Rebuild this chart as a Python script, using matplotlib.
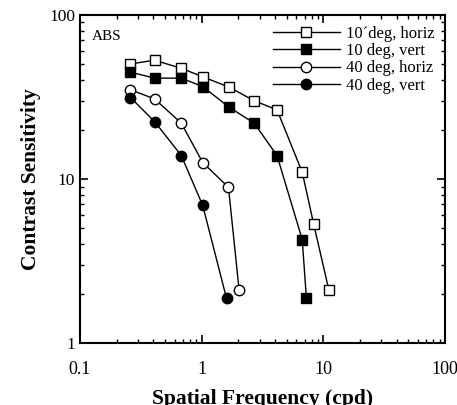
import matplotlib
matplotlib.use("Agg")
from matplotlib import pyplot as plt
from matplotlib.ticker import LogLocator, NullFormatter, FixedLocator, FixedFormatter

plt.rcParams['font.family'] = ['Liberation Serif', 'DejaVu Serif']

# --- data ---
x_10h = [0.26, 0.41, 0.68, 1.02, 1.68, 2.7, 4.16, 6.7, 8.3, 11.1]
y_10h = [50.3, 53.0, 47.3, 42.0, 36.3, 30.0, 26.4, 11.0, 5.35, 2.1]

x_10v = [0.26, 0.41, 0.68, 1.02, 1.68, 2.7, 4.16, 6.7, 7.25]
y_10v = [44.8, 41.2, 41.2, 36.6, 27.4, 21.9, 13.9, 4.27, 1.87]

x_40h = [0.26, 0.41, 0.68, 1.02, 1.66, 2.03]
y_40h = [35.0, 30.8, 21.9, 12.6, 8.9, 2.1]

x_40v = [0.26, 0.41, 0.68, 1.02, 1.6]
y_40v = [31.4, 22.4, 13.9, 6.9, 1.87]

labels = ["10\u00b4deg, horiz", "10 deg, vert", "40 deg, horiz", "40 deg, vert"]

fig = plt.figure(figsize=(4.57, 4.05), dpi=100)
ax = fig.add_axes([0.175, 0.153, 0.799, 0.81])

ms = 7.5
ax.plot(x_10h, y_10h, "s-", c="black", lw=1, ms=ms, mfc="white", mew=1, label=labels[0])
ax.plot(x_10v, y_10v, "s-", c="black", lw=1, ms=ms, mfc="black", mew=1, label=labels[1])
ax.plot(x_40h, y_40h, "o-", c="black", lw=1, ms=ms, mfc="white", mew=1, label=labels[2])
ax.plot(x_40v, y_40v, "o-", c="black", lw=1, ms=ms, mfc="black", mew=1, label=labels[3])

ax.set_xscale("log")
ax.set_yscale("log")
ax.set_xlim(0.1, 100)
ax.set_ylim(1, 100)

ax.xaxis.set_major_locator(FixedLocator([0.1, 1, 10, 100]))
ax.xaxis.set_major_formatter(FixedFormatter(["0.1", "1", "10", "100"]))
ax.yaxis.set_major_locator(FixedLocator([1, 10, 100]))
ax.yaxis.set_major_formatter(FixedFormatter(["1", "10", "100"]))
ax.xaxis.set_minor_locator(LogLocator(base=10, subs=range(2, 10)))
ax.yaxis.set_minor_locator(LogLocator(base=10, subs=range(2, 10)))
ax.xaxis.set_minor_formatter(NullFormatter())
ax.yaxis.set_minor_formatter(NullFormatter())

ax.tick_params(which="both", direction="in", top=True, right=True, labelsize=12.5)
ax.tick_params(which="major", length=6, width=1.2)
ax.tick_params(which="minor", length=3, width=1)
ax.tick_params(axis="x", pad=13, labelsize=13)
for s in ax.spines.values():
    s.set_linewidth(1.5)

ax.set_xlabel("Spatial Frequency (cpd)", fontsize=15.5, fontweight="bold", labelpad=8)
ax.set_ylabel("Contrast Sensitivity", fontsize=15.5, fontweight="bold", labelpad=6)

ax.text(0.033, 0.955, "ABS", transform=ax.transAxes, fontsize=11, va="top", ha="left")

ax.legend(loc="upper right", frameon=False, fontsize=12, handlelength=4.0,
          handletextpad=0.35, labelspacing=0.08, borderaxespad=0.45, borderpad=0.2)

plt.savefig("out.png", dpi=100)
